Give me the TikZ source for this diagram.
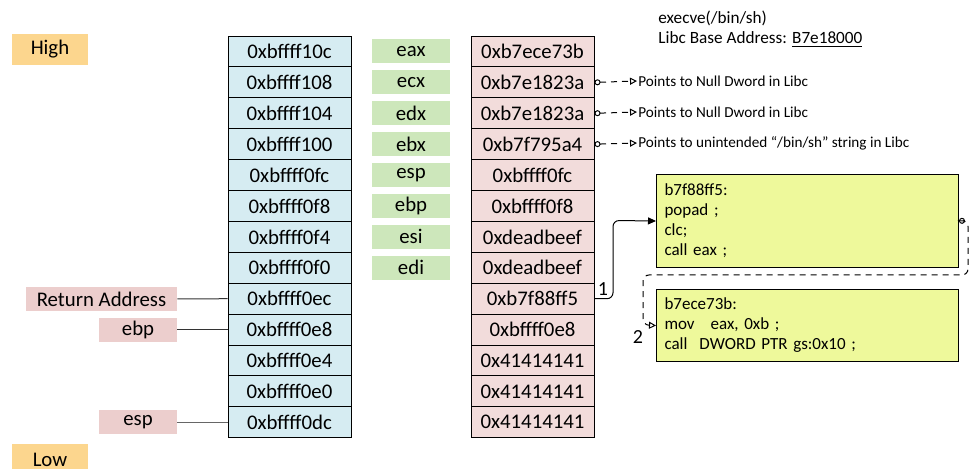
\documentclass[tikz,border=0pt]{standalone}
\usepackage{fontspec}
\setmainfont{Carlito}
\usetikzlibrary{arrows.meta}
\definecolor{addrblue}{RGB}{214,236,242}
\definecolor{valpink}{RGB}{242,220,219}
\definecolor{tagpink}{RGB}{236,206,205}
\definecolor{reggreen}{RGB}{205,231,187}
\definecolor{levelorange}{RGB}{252,214,142}
\definecolor{codeyellow}{RGB}{238,249,155}
\tikzset{
  cell/.style={draw, line width=0.5pt, minimum width=61.5pt, minimum height=15.45pt, inner sep=0pt, font=\fontsize{10.4}{12}\selectfont},
  addr/.style={cell, fill=addrblue},
  val/.style={cell, fill=valpink},
  reg/.style={fill=reggreen, minimum width=39pt, minimum height=12pt, inner sep=0pt, font=\fontsize{10.4}{12}\selectfont},
  tag/.style={fill=tagpink, minimum height=12pt, inner sep=0pt, font=\fontsize{10.4}{12}\selectfont},
  level/.style={fill=levelorange, minimum width=38pt, minimum height=15.5pt, inner sep=0pt, font=\fontsize{10.4}{12}\selectfont},
  code/.style={draw, line width=0.5pt, fill=codeyellow, align=left, text width=143pt, inner xsep=4pt, font=\fontsize{8.5}{10}\selectfont},
  note/.style={anchor=west, inner sep=0.5pt, font=\fontsize{7.6}{9}\selectfont},
  dashline/.style={line width=0.5pt, dash pattern=on 3pt off 2.5pt},
  opentip/.style={{Circle[open,length=3pt,width=3pt]}-{Triangle[open,length=3.5pt,width=3.5pt]}}
}
\begin{document}
\begin{tikzpicture}[x=0.5pt, y=-0.5pt]
			%%%%% START %%%%%
			\useasboundingbox (0,0) rectangle (972,469);
			
			\node[level] (high) at (50, 49.5) {High};
			\node[level] (low) at (50, 459.5) {Low};
			
			% stack addresses
			\node[addr] (a1) at (289.5, 51.5) {0xbffff10c};
			\node[addr] (a2) at (289.5, 82.4) {0xbffff108};
			\node[addr] (a3) at (289.5, 113.3) {0xbffff104};
			\node[addr] (a4) at (289.5, 144.2) {0xbffff100};
			\node[addr] (a5) at (289.5, 175.1) {0xbffff0fc};
			\node[addr] (a6) at (289.5, 206) {0xbffff0f8};
			\node[addr] (a7) at (289.5, 236.9) {0xbffff0f4};
			\node[addr] (a8) at (289.5, 267.8) {0xbffff0f0};
			\node[addr] (a9) at (289.5, 298.7) {0xbffff0ec};
			\node[addr] (a10) at (289.5, 329.6) {0xbffff0e8};
			\node[addr] (a11) at (289.5, 360.5) {0xbffff0e4};
			\node[addr] (a12) at (289.5, 391.4) {0xbffff0e0};
			\node[addr] (a13) at (289.5, 422.3) {0xbffff0dc};
			
			% registers
			\node[reg] (eax) at (411, 51.5) {eax};
			\node[reg] (ecx) at (411, 82.4) {ecx};
			\node[reg] (edx) at (411, 113.3) {edx};
			\node[reg] (ebx) at (411, 144.2) {ebx};
			\node[reg] (esp) at (411, 175.1) {esp};
			\node[reg] (ebp) at (411, 206) {ebp};
			\node[reg] (esi) at (411, 236.9) {esi};
			\node[reg] (edi) at (411, 267.8) {edi};
			
			% stack values
			\node[val] (v1) at (532.5, 51.5) {0xb7ece73b};
			\node[val] (v2) at (532.5, 82.4) {0xb7e1823a};
			\node[val] (v3) at (532.5, 113.3) {0xb7e1823a};
			\node[val] (v4) at (532.5, 144.2) {0xb7f795a4};
			\node[val] (v5) at (532.5, 175.1) {0xbffff0fc};
			\node[val] (v6) at (532.5, 206) {0xbffff0f8};
			\node[val] (v7) at (532.5, 236.9) {0xdeadbeef};
			\node[val] (v8) at (532.5, 267.8) {0xdeadbeef};
			\node[val] (v9) at (532.5, 298.7) {0xb7f88ff5};
			\node[val] (v10) at (532.5, 329.6) {0xbffff0e8};
			\node[val] (v11) at (532.5, 360.5) {0x41414141};
			\node[val] (v12) at (532.5, 391.4) {0x41414141};
			\node[val] (v13) at (532.5, 422.3) {0x41414141};
			
			% pointers on the left
			\node[tag, minimum width=75.5pt] (retaddr) at (101.5, 299) {Return Address};
			\node[tag, minimum width=39pt] (tagebp) at (138, 329.6) {ebp};
			\node[tag, minimum width=39pt] (tagesp) at (138, 422.3) {esp};
			\draw[line width=0.5pt, color=black!80] (retaddr.east) -- (a9.west);
			\draw[line width=0.5pt, color=black!80] (tagebp.east) -- (a10.west);
			\draw[line width=0.6pt, color=black!60] (tagesp.east) -- (a13.west);
			
			% top right
			\node[anchor=west, inner sep=0pt, font=\fontsize{8.6}{10}\selectfont] (execve) at (658, 18) {execve(/bin/sh)};
			\node[anchor=west, inner sep=0pt, font=\fontsize{8.6}{10}\selectfont] (libcbase) at (658, 40) {Libc Base Address: \underline{B7e18000}};
			
			% notes
			\node[note] (n2) at (637, 81) {Points to Null Dword in Libc};
			\node[note] (n3) at (637, 112) {Points to Null Dword in Libc};
			\node[note] (n4) at (637, 143) {Points to unintended ``/bin/sh'' string in Libc};
			\draw[dashline, opentip] (v2.east) -- (n2.west);
			\draw[dashline, opentip] (v3.east) -- (n3.west);
			\draw[dashline, opentip] (v4.east) -- (n4.west);
			
			% gadgets
			\node[code, anchor=north west, minimum height=46.5pt] (gadget1) at (656, 174) {b7f88ff5:\\popad ;\\clc;\\call eax ;};
			\node[code, anchor=north west, minimum height=36pt] (gadget2) at (656, 289) {b7ece73b:\\mov\hspace{8pt}eax, 0xb ;\\call\hspace{6pt}DWORD PTR gs:0x10 ;};
			
			\draw[line width=0.5pt, rounded corners=3pt, -{Triangle[length=4pt,width=3.5pt]}] (v9.east) -- (613, 298.7) -- (613, 220.5) -- (gadget1.west);
			\node[inner sep=0pt, font=\fontsize{10}{12}\selectfont] (lab1) at (603, 289) {1};
			
			\draw[dashline, rounded corners=3pt, opentip] (gadget1.east) -- (968, 220.5) -- (968, 275) -- (643, 275) -- (643, 325) -- (gadget2.west);
			\node[inner sep=0pt, font=\fontsize{10}{12}\selectfont] (lab2) at (638, 337) {2};
			
			%%%%% END %%%%%
\end{tikzpicture}
\end{document}
